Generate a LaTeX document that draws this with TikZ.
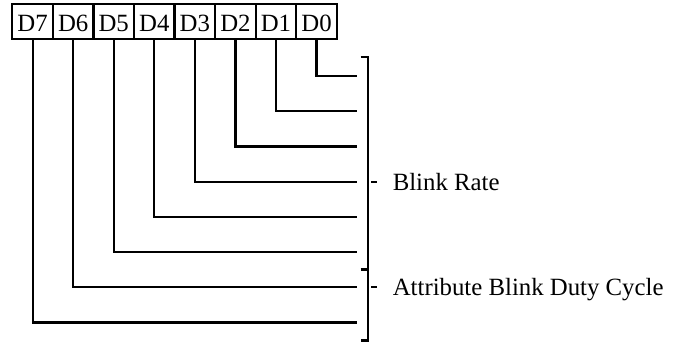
\documentclass[tikz,border=0pt]{standalone}
\usepackage{fontspec}
\setmainfont{Liberation Serif}
\usetikzlibrary{positioning}
\begin{document}
\begin{tikzpicture}[x=0.5pt,y=0.5pt,line width=1.1pt,
  font=\fontsize{12.4}{14}\selectfont,
  bit/.style={draw,minimum width=20.28pt,minimum height=17.5pt,inner sep=0pt,
    outer sep=0pt,text height=10.2pt,text depth=0pt},
  lbl/.style={anchor=west,inner sep=0pt,text depth=0pt}]
  \useasboundingbox (0,0) rectangle (683,343);
  % register bits
  \node[bit] (b7) at (32.6,321.5) {D7};
  \foreach \i [evaluate=\i as \j using int(\i+1)] in {6,...,0}
    \node[bit,right=0pt of b\j] (b\i) {D\i};
  % bit lines
  \foreach \i in {0,...,7} {
    \coordinate (e\i) at (357.3,267-35.2*\i);
    \draw (b\i.south) |- (e\i);
  }
  % brackets
  \draw (360.7,286) -| (368.3,2.5) -- (360.7,2.5);
  \draw (360.7,73.5) -- (368.3,73.5);
  \draw (371,161.4) -- (377.3,161.4);
  \draw (371,55.8) -- (377.3,55.8);
  \node[lbl] (rate) at (391.7,161.4) {Blink Rate};
  \node[lbl] (duty) at (391.7,55.8) {Attribute Blink Duty Cycle};
\end{tikzpicture}
\end{document}
